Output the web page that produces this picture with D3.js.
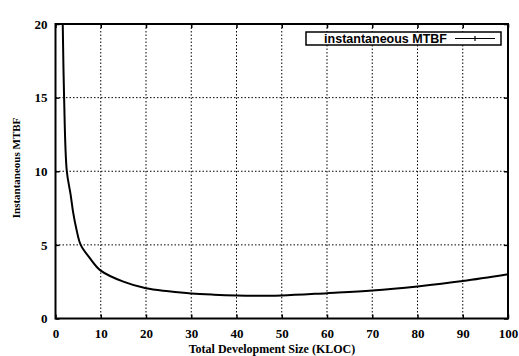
<!DOCTYPE html>
<html><head><meta charset="utf-8">
<script src="https://cdn.jsdelivr.net/npm/d3@7"></script>
<style>body{margin:0;background:#fff}svg{display:block}</style>
</head><body>
<svg id="c" width="519" height="356"></svg>
<script>
const xTicks = [0,10,20,30,40,50,60,70,80,90,100];
const yTicks = [0,5,10,15,20];
const kloc = [1.6, 1.9, 2.5, 3.35, 3.87, 4.6, 5.57, 7.55, 10, 15, 20, 25, 30, 35, 40, 45, 50, 60, 70, 80, 90, 100];
const mtbf = [20, 15, 10, 8.4, 7.26, 6.1, 5.0, 4.12, 3.25, 2.5, 2.05, 1.85, 1.7, 1.62, 1.57, 1.55, 1.56, 1.72, 1.9, 2.18, 2.54, 3.0];
const seriesName = "instantaneous MTBF";

const svg = d3.select("#c");
const L = 55.5, R = 508, T = 24, B = 318.5;
const x = d3.scaleLinear().domain([0,100]).range([L,R]);
const y = d3.scaleLinear().domain([0,20]).range([B,T]);
const serif = "'Liberation Serif','DejaVu Serif',serif";

// grid
const g = svg.append("g");
g.selectAll("line.gx").data(xTicks.slice(1,-1)).join("line")
  .attr("x1",d=>x(d)).attr("x2",d=>x(d)).attr("y1",T).attr("y2",B)
  .attr("stroke","#000").attr("stroke-width",1).attr("stroke-dasharray","1.5,2");
g.selectAll("line.gy").data(yTicks.slice(1,-1)).join("line")
  .attr("y1",d=>y(d)).attr("y2",d=>y(d)).attr("x1",L).attr("x2",R)
  .attr("stroke","#000").attr("stroke-width",1).attr("stroke-dasharray","1.5,2");

// axes
const ax = svg.append("g").attr("transform",`translate(0,${B})`)
  .call(d3.axisBottom(x).tickValues(xTicks).tickSize(-4).tickPadding(10).tickFormat(d3.format("d")));
const ay = svg.append("g").attr("transform",`translate(${L},0)`)
  .call(d3.axisLeft(y).tickValues(yTicks).tickSize(-4).tickPadding(8).tickFormat(d3.format("d")));
const axT = svg.append("g").attr("transform",`translate(0,${T})`)
  .call(d3.axisTop(x).tickValues(xTicks).tickSize(-4).tickFormat(""));
const ayR = svg.append("g").attr("transform",`translate(${R},0)`)
  .call(d3.axisRight(y).tickValues(yTicks).tickSize(-4).tickFormat(""));
[ax,ay,axT,ayR].forEach(a=>{
  a.select(".domain").remove();
  a.selectAll(".tick line").attr("stroke","#000").attr("stroke-width",1.5);
  a.selectAll("text").attr("font-family",serif).attr("font-weight","bold").attr("font-size",13).attr("fill","#000");
});

// frame
svg.append("rect").attr("x",L).attr("y",T).attr("width",R-L).attr("height",B-T)
  .attr("fill","none").attr("stroke","#000").attr("stroke-width",2);

// curve
const pts = kloc.map((k,i)=>[k,mtbf[i]]);
svg.append("path").datum(pts)
  .attr("d", d3.line().x(d=>x(d[0])).y(d=>y(d[1])).curve(d3.curveCatmullRom.alpha(0.5)))
  .attr("fill","none").attr("stroke","#000").attr("stroke-width",2);

// legend
const lg = svg.append("g");
lg.append("rect").attr("x",306).attr("y",32).attr("width",195).attr("height",13)
  .attr("fill","#fff").attr("stroke","#000").attr("stroke-width",1.5);
lg.append("text").attr("x",447).attr("y",43).attr("text-anchor","end")
  .attr("font-family","'Liberation Sans Narrow','Liberation Sans',sans-serif")
  .attr("font-weight","bold").attr("font-size",12.5).attr("fill","#000").text(seriesName);
lg.append("line").attr("x1",455).attr("x2",495).attr("y1",38.5).attr("y2",38.5)
  .attr("stroke","#000").attr("stroke-width",1.2);
lg.append("line").attr("x1",475).attr("x2",475).attr("y1",36).attr("y2",41)
  .attr("stroke","#000").attr("stroke-width",1.2);

// axis labels
svg.append("text").attr("x",272).attr("y",353).attr("text-anchor","middle")
  .attr("font-family",serif).attr("font-weight","bold").attr("font-size",12).attr("fill","#000")
  .text("Total Development Size (KLOC)");
svg.append("text").attr("transform","translate(20,168) rotate(-90)").attr("text-anchor","middle")
  .attr("font-family",serif).attr("font-weight","bold").attr("font-size",11).attr("fill","#000")
  .text("Instantaneous MTBF");
</script>
</body></html>
